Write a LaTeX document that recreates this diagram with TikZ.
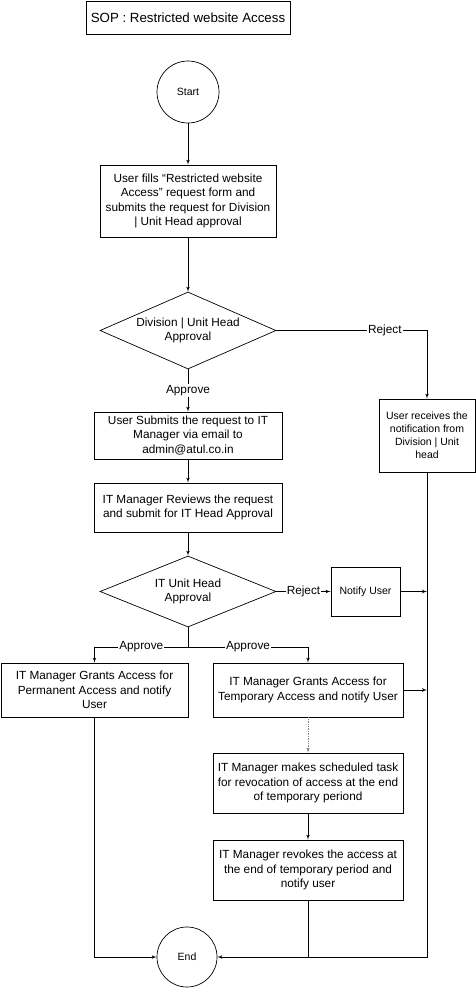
\documentclass[tikz,border=0pt]{standalone}
\usepackage{fontspec}
\setmainfont{Liberation Sans}
\usetikzlibrary{shapes,arrows,positioning}
\tikzset{
heading/.style = {draw, fill=white, rectangle, align = center, font=\fontsize{13.3}{16}\selectfont, minimum width=204pt, minimum height=33pt},
entry/.style = {draw, fill=white, circle, inner sep=0pt, font=\fontsize{10.5}{12.9}\selectfont},
block/.style = {draw, fill=white, rectangle, align = center, inner sep=1pt, font=\fontsize{11.8}{14.3}\selectfont},
note/.style = {block, font=\fontsize{10.5}{12.9}\selectfont},
condition/.style = {draw, fill=white, diamond, align = center, inner sep=0pt, aspect=2.3, font=\fontsize{11.8}{14.3}\selectfont},
lbl/.style = {fill=white, inner sep=1pt, anchor=center, font=\fontsize{11.8}{14.3}\selectfont}
}
\begin{document}
\begin{tikzpicture}[x=1pt, y=-1pt, line width=0.7pt, >=latex']
    \useasboundingbox [fill=white] (0,0) rectangle (476,988);
    \node [heading] (sop) at (188,17.5) {SOP : Restricted website Access};
    \node [entry, minimum size=62pt] (start) at (188,92) {Start};
    \node [block, minimum width=176pt, minimum height=72pt] (fill) at (188,201)
      {User fills “Restricted website\\ Access” request form and\\ submits the request for Division\\ | Unit Head approval};
    \node [condition, minimum width=176pt, minimum height=77pt] (cond1) at (188,330.5)
      {Division | Unit Head\\ Approval};
    \node [note, minimum width=96pt, minimum height=73pt] (rejnote) at (427,435.5)
      {User receives the\\ notification from\\ Division | Unit\\ head};
    \node [block, minimum width=188pt, minimum height=47pt] (submit) at (188,435.5)
      {User Submits the request to IT\\ Manager via email to\\ admin@atul.co.in};
    \node [block, minimum width=188pt, minimum height=49pt] (review) at (188,507.5)
      {IT Manager Reviews the request\\ and submit for IT Head Approval};
    \node [condition, minimum width=176pt, minimum height=71pt] (cond2) at (188,591.5)
      {IT Unit Head\\ Approval};
    \node [note, minimum width=69pt, minimum height=49pt] (notify) at (365.5,591.5) {Notify User};
    \node [block, minimum width=187pt, minimum height=54pt] (perm) at (94.5,690)
      {IT Manager Grants Access for\\ Permanent Access and notify\\ User};
    \node [block, minimum width=190pt, minimum height=54pt] (temp) at (308,690)
      {IT Manager Grants Access for\\ Temporary Access and notify User};
    \node [block, minimum width=190pt, minimum height=60pt] (sched) at (308,783)
      {IT Manager makes scheduled task\\ for revocation of access at the end\\ of temporary periond};
    \node [block, minimum width=190pt, minimum height=60pt] (revoke) at (308,870)
      {IT Manager revokes the access at\\ the end of temporary period and\\ notify user};
    \node [entry, minimum size=60pt] (endn) at (187,957) {End};
    \coordinate (split) at (188,647);

    \draw [->] (start) -- (fill);
    \draw [->] (fill) -- (cond1);
    \draw [->] (cond1) -- node [lbl] {Approve} (submit);
    \draw [->] (cond1.east) -| node [lbl, pos=.36] {Reject} (rejnote.north);
    \draw [->] (submit) -- (review);
    \draw [->] (review) -- (cond2);
    \draw [->] (cond2.east) -- node [lbl] {Reject} (notify.west);
    \draw (cond2.south) -- (split);
    \draw [->] (split) -| node [lbl, pos=.25] {Approve} (perm.north);
    \draw [->] (split) -| node [lbl, pos=.25] {Approve} (temp.north);
    \draw [->, densely dotted, gray] (temp) -- (sched);
    \draw [->] (sched) -- (revoke);
    \draw [->] (notify.east) -- (notify.east -| rejnote.south);
    \draw [->] (temp.east) -- (temp.east -| rejnote.south);
    \draw [->] (rejnote.south) |- (endn.east);
    \draw (revoke.south) -- (revoke.south |- endn.east);
    \draw [->] (perm.south) |- (endn.west);
\end{tikzpicture}
\end{document}
